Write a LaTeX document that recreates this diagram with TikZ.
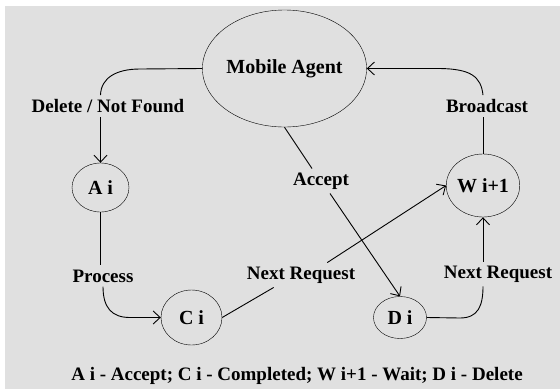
\documentclass[tikz,border=0pt]{standalone}
\usepackage{fontspec}
\setmainfont{Liberation Serif}
\usetikzlibrary{shapes.geometric,arrows.meta}
\definecolor{panel}{RGB}{224,224,224}
\begin{document}
\begin{tikzpicture}[x=1pt,y=-1pt]
\tikzstyle{state}=[draw,ellipse,inner sep=0pt,font=\fontsize{20}{24}\selectfont\bfseries]
\tikzstyle{cond}=[inner sep=4pt,font=\fontsize{19}{23}\selectfont\bfseries]
\tikzstyle{arrow}=[draw,line width=0.9pt,-{Straight Barb[length=7pt,width=13pt]}]
\tikzstyle{line}=[draw,line width=0.9pt]
\useasboundingbox(0,0)rectangle(560,389);
\fill[panel](5,6)rectangle(560,389);
% states
\node[state,minimum width=139,minimum height=117](agent)at(284.5,68.5){Mobile Agent};
\node[state,minimum width=57,minimum height=49](ai)at(100.5,187.5){A i};
\node[state,minimum width=61,minimum height=55](ci)at(191.5,317.5){C i};
\node[state,minimum width=53,minimum height=42](di)at(400,317.5){D i};
\node[state,minimum width=72,minimum height=63](wi)at(483,185.5){W i+1};
% transition labels
\node[cond](del)at(108,106){Delete / Not Found};
\node[cond](proc)at(103,276){Process};
\node[cond](req)at(301,275){Next Request};
\node[cond](acc)at(321,181){Accept};
\node[cond](bcast)at(487,106){Broadcast};
\node[cond](wreq)at(498,274){Next Request};
\node[cond](key)at(297,376){A i - Accept; C i - Completed; W i+1 - Wait; D i - Delete};
% transitions
\path[line](agent.west)--(140,69)..controls(116,69)and(101,78)..(del.north-|ai.north);
\path[arrow](del.south-|ai.north)--(ai.north);
\path[line](ai.south)--(proc.north-|ai.south);
\path[arrow](proc.south)..controls(103,308)and(112,317.5)..(130,317.5)--(ci.west);
\path[line](ci.east)--([xshift=31pt]req.south west);
\path[arrow]([xshift=-32pt]req.north east)--(wi.west);
\path[line](agent.south)--([xshift=-9pt]acc.north);
\path[arrow]([xshift=9pt]acc.south)--(di.north);
\path[line](di.east)--(460,318)..controls(478,318)and(483,306)..(wreq.south-|wi.south);
\path[arrow](wreq.north-|wi.south)--(wi.south);
\path[line](wi.north)--(bcast.south-|wi.north);
\path[arrow](bcast.north-|wi.north)..controls(481,76)and(470,69)..(440,68.5)--(agent.east);
\end{tikzpicture}
\end{document}
